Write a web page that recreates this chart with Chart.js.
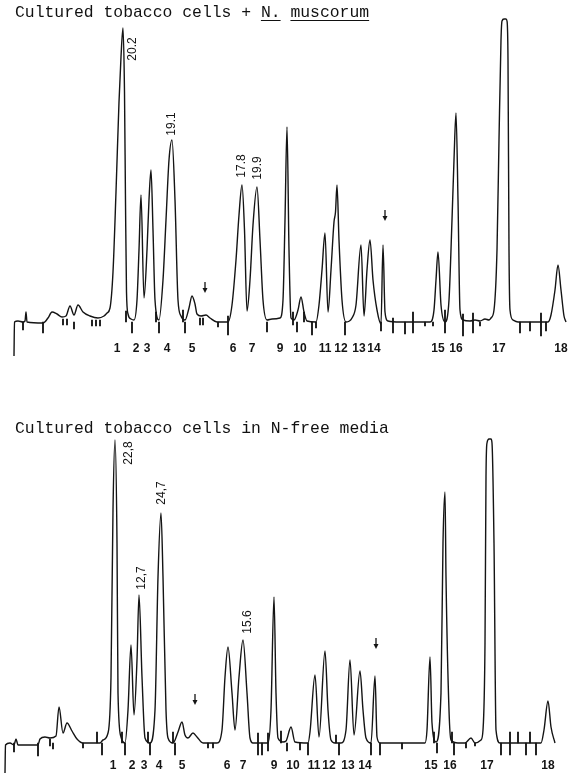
<!DOCTYPE html>
<html>
<head>
<meta charset="utf-8">
<script src="https://cdn.jsdelivr.net/npm/chart.js@4.4.0/dist/chart.umd.min.js"></script>
<style>
  html, body { margin: 0; padding: 0; background: #fff; }
  #page { position: relative; width: 578px; height: 780px; overflow: hidden; }
  .panel { position: absolute; left: 0; width: 578px; height: 390px; }
  .title { position: absolute; left: 15px; font-family: "Liberation Mono", monospace; font-size: 16.4px;
           color: #111; white-space: pre; line-height: 1; }
  .title u { text-underline-offset: 3px; }
</style>
</head>
<body>
<div id="page">
  <div class="panel" style="top:0"><canvas id="top" width="578" height="390"></canvas></div>
  <div class="panel" style="top:390px"><canvas id="bottom" width="578" height="390"></canvas></div>
  <div class="title" style="top:5px">Cultured tobacco cells + <u>N.</u> <u>muscorum</u></div>
  <div class="title" style="top:421px">Cultured tobacco cells in N-free media</div>
</div>
<script>
// peak numbering used on both traces (no peak 8)
const peakNames = ['1', '2', '3', '4', '5', '6', '7', '9', '10', '11', '12', '13', '14', '15', '16', '17', '18'];

// --- top trace: + N. muscorum (x = retention position, h = detector response) ---
const topTraceX = [14, 14.5, 18, 23, 25, 26, 27, 43, 48, 52, 57, 62, 66, 70, 74, 78, 83, 90, 98, 104, 107, 110,
  113, 116, 119, 121, 123, 124.5, 125.5, 126.5, 128, 131, 134, 137, 139, 141, 144, 147, 149, 151, 153, 155, 159,
  163, 166, 169, 172, 175, 178, 181, 185, 189, 192, 195, 197, 201, 206, 210, 217, 228, 232, 236, 239, 242, 244.5,
  247, 250, 253, 257, 260, 263, 267, 272, 280, 283, 285, 287, 289, 291, 294, 298, 301, 304, 307, 316, 319, 322,
  325, 328, 331, 334, 335.5, 337, 339, 342, 346, 352, 356, 361, 364, 367, 370, 373, 377, 381, 383, 385, 388, 400,
  430, 434, 436, 438, 441, 445, 449, 452, 454, 456, 458, 460, 463, 470, 475, 480, 485, 489, 491, 494, 497, 499,
  501, 502, 504, 506, 507, 508, 509, 510, 513, 518, 548, 551, 555, 558, 561, 564, 566];
const topTraceH = [-34, 0, 1, 0, 1, 10, 0, -1, 4, 10, 8, 5, 6, 16, 7, 17, 10, 6, 4, 6, 9, 14,
  50, 130, 220, 265, 294, 230, 120, 30, 8, 3, 2, 22, 72, 127, 24, 72, 122, 152, 92, 22, 2,
  42, 102, 162, 182, 122, 22, 6, 2, 14, 26, 18, 8, 6, 7, 4, 0, 0, 17, 62, 107, 137, 92,
  11, 42, 97, 135, 82, 22, 2, 3, 4, 22, 102, 195, 72, 4, 2, 12, 25, 10, 1, 0, 17, 52,
  89, 10, 52, 100, 110, 137, 82, 22, 0, 4, 17, 77, 6, 52, 82, 42, 12, -2, 77, 10, 1, 0,
  0, 12, 42, 70, 17, 0, 22, 102, 162, 209, 122, 12, 2, 1, 2, 1, 3, 2, 4, 12, 72, 182,
  282, 301, 303, 303, 301, 262, 72, 12, 2, 0, 0, 7, 32, 57, 32, 6, 0];
const topMarkX = [23, 43, 63, 67, 74, 92, 96, 100, 126, 132, 156, 159, 183, 185, 200, 203, 218, 228, 267, 293,
  297, 304, 312, 316, 345, 381, 393, 405, 413, 425, 433, 445, 463, 473, 480, 520, 530, 541, 546];
const topMarkLo = [-8, -11, -3, -3, -7, -4, -4, -4, 0, -11, 0, -11, 0, -11, -3, -3, -5, -13, -10, -3,
  -10, 0, -13, -6, -13, -9, -11, -12, -11, -4, -4, -11, -14, -11, -4, -11, -9, -14, -9];
const topMarkHi = [0, 0, 3, 3, 0, 2, 2, 2, 11, 0, 10, 0, 12, 0, 4, 4, 0, 6, 0, 10,
  0, 10, 0, 0, 0, 0, 4, 0, 10, 0, 0, 12, 8, 9, 0, 0, 0, 9, 0];
const topPeakX = [117, 136, 147, 167, 192, 233, 252, 280, 300, 325, 341, 359, 374, 438, 456, 499, 561];
const topValueText = ['20.2', '19.1', '17.8', '19.9'];
const topValueX = [133, 172, 242, 258];
const topValueH = [273, 198, 156, 154];
const topArrowX = [205, 385];
const topArrowH = [34, 106];

// --- bottom trace: N-free media ---
const botTraceX = [5, 5.5, 10, 14, 16, 18, 38, 40, 45, 50, 56, 59, 63, 67, 72, 77, 83, 100, 103, 108, 111, 113,
  115, 117, 118, 121, 125, 128, 131, 134, 137, 139, 142, 145, 150, 155, 158, 161, 163, 166, 168, 173, 178, 182,
  185, 188, 193, 197, 203, 217, 222, 225, 228, 232, 235, 239, 243, 247, 250, 253, 268, 271, 274, 276, 278, 283,
  286, 291, 295, 308, 310, 315, 319, 325, 328, 331, 335, 341, 346, 350, 354, 360, 363, 366, 371, 375, 377, 380,
  425, 427, 430, 432, 436, 441, 443, 445, 446, 449, 451, 458, 465, 471, 475, 481, 483, 485, 486, 487, 489, 491,
  492, 494, 496, 500, 541, 544, 548, 551, 555];
const botTraceH = [-30, -2, 0, -2, 4, -2, -2, 4, 6, 5, 7, 36, 10, 20, 12, 4, 0, 0, 3, 10, 66, 233,
  303, 200, 50, 6, 0, 33, 98, 28, 83, 148, 66, 5, 0, 33, 166, 230, 166, 33, 5, 0, 11, 21,
  8, 5, 10, 6, 0, 0, 13, 66, 96, 50, 13, 66, 103, 50, 5, 0, 0, 33, 146, 50, 5, 1,
  2, 16, 1, 0, 11, 68, 6, 92, 33, 3, 0, 0, 13, 83, 8, 72, 33, 5, 0, 67, 6, 0,
  0, 13, 86, 20, 1, 50, 200, 251, 166, 33, 3, 0, 0, 5, 0, 3, 13, 100, 266, 300, 304, 304,
  300, 200, 13, 0, 0, 13, 42, 16, 0];
const botMarkX = [14, 38, 50, 53, 83, 97, 102, 122, 125, 148, 150, 173, 175, 208, 213, 258, 262, 268, 281, 287,
  300, 308, 336, 339, 371, 380, 402, 434, 437, 452, 454, 466, 475, 501, 510, 518, 526, 530, 536];
const botMarkLo = [-9, -13, -3, -6, -5, 0, -12, 0, -12, 0, -12, 0, -12, -5, -5, -12, -12, -8, 0, -8,
  -7, -12, 0, -12, -12, -12, -6, 0, -10, 0, -12, -5, -3, -12, -12, 0, -12, 0, -12];
const botMarkHi = [0, 0, 4, 0, 0, 11, 0, 11, 0, 11, 0, 11, 0, 0, 0, 10, 0, 10, 12, 0,
  0, 0, 8, 0, 0, 0, 0, 11, 0, 11, 0, 0, 0, 0, 11, 11, 0, 11, 0];
const botPeakX = [113, 132, 144, 159, 182, 227, 243, 274, 293, 314, 329, 348, 365, 431, 450, 487, 548];
const botValueText = ['22,8', '12,7', '24,7', '15.6'];
const botValueX = [129, 142, 162, 248];
const botValueH = [290, 165, 250, 121];
const botArrowX = [195, 376];
const botArrowH = [43, 99];

const INK = '#141414';

function makePanel(id, p) {
  const overlay = {
    id: 'overlay',
    afterDatasetsDraw(chart) {
      const { ctx, scales: { x, y } } = chart;
      ctx.save();
      ctx.fillStyle = INK;
      ctx.strokeStyle = INK;
      ctx.textAlign = 'center';
      ctx.textBaseline = 'middle';
      // peak numbers under the trace
      ctx.font = 'bold 12px "Liberation Sans", Arial, sans-serif';
      p.peakX.forEach((v, i) => {
        ctx.fillText(peakNames[i], x.getPixelForValue(v), y.getPixelForValue(p.nameLevel));
      });
      // rotated percentages next to some peaks
      ctx.font = '12px "Liberation Sans", Arial, sans-serif';
      p.valX.forEach((v, i) => {
        ctx.save();
        ctx.translate(x.getPixelForValue(v), y.getPixelForValue(p.valH[i]));
        ctx.rotate(-Math.PI / 2);
        ctx.fillText(p.valText[i], 0, 0);
        ctx.restore();
      });
      // small down arrows
      ctx.lineWidth = 1.3;
      p.arrowX.forEach((v, i) => {
        const px = x.getPixelForValue(v), py = y.getPixelForValue(p.arrowH[i]);
        ctx.beginPath(); ctx.moveTo(px, py - 6); ctx.lineTo(px, py + 1); ctx.stroke();
        ctx.beginPath(); ctx.moveTo(px - 2.5, py); ctx.lineTo(px + 2.5, py); ctx.lineTo(px, py + 5);
        ctx.closePath(); ctx.fill();
      });
      ctx.restore();
    }
  };

  return new Chart(document.getElementById(id), {
    type: 'line',
    data: {
      datasets: [
        {
          data: p.x.map((v, i) => ({ x: v, y: p.h[i] })),
          borderColor: INK,
          borderWidth: 1.4,
          pointRadius: 0,
          cubicInterpolationMode: 'monotone',
          fill: false,
          clip: false
        },
        {
          type: 'bar',
          data: p.markX.map((v, i) => ({ x: v, y: [p.markLo[i], p.markHi[i]] })),
          backgroundColor: INK,
          barThickness: 1.2,
          borderWidth: 0,
          grouped: false
        }
      ]
    },
    options: {
      responsive: false,
      animation: false,
      devicePixelRatio: 1,
      layout: { padding: 0 },
      plugins: { legend: { display: false }, tooltip: { enabled: false } },
      scales: {
        x: { type: 'linear', min: 0, max: 578, display: false, offset: false },
        y: { type: 'linear', min: p.yMin, max: p.yMax, display: false }
      }
    },
    plugins: [overlay]
  });
}

makePanel('top', {
  x: topTraceX, h: topTraceH,
  markX: topMarkX, markLo: topMarkLo, markHi: topMarkHi,
  peakX: topPeakX, nameLevel: -27,
  valText: topValueText, valX: topValueX, valH: topValueH,
  arrowX: topArrowX, arrowH: topArrowH,
  yMin: -68, yMax: 322
});

makePanel('bottom', {
  x: botTraceX, h: botTraceH,
  markX: botMarkX, markLo: botMarkLo, markHi: botMarkHi,
  peakX: botPeakX, nameLevel: -23,
  valText: botValueText, valX: botValueX, valH: botValueH,
  arrowX: botArrowX, arrowH: botArrowH,
  yMin: -37, yMax: 353
});
</script>
</body>
</html>
